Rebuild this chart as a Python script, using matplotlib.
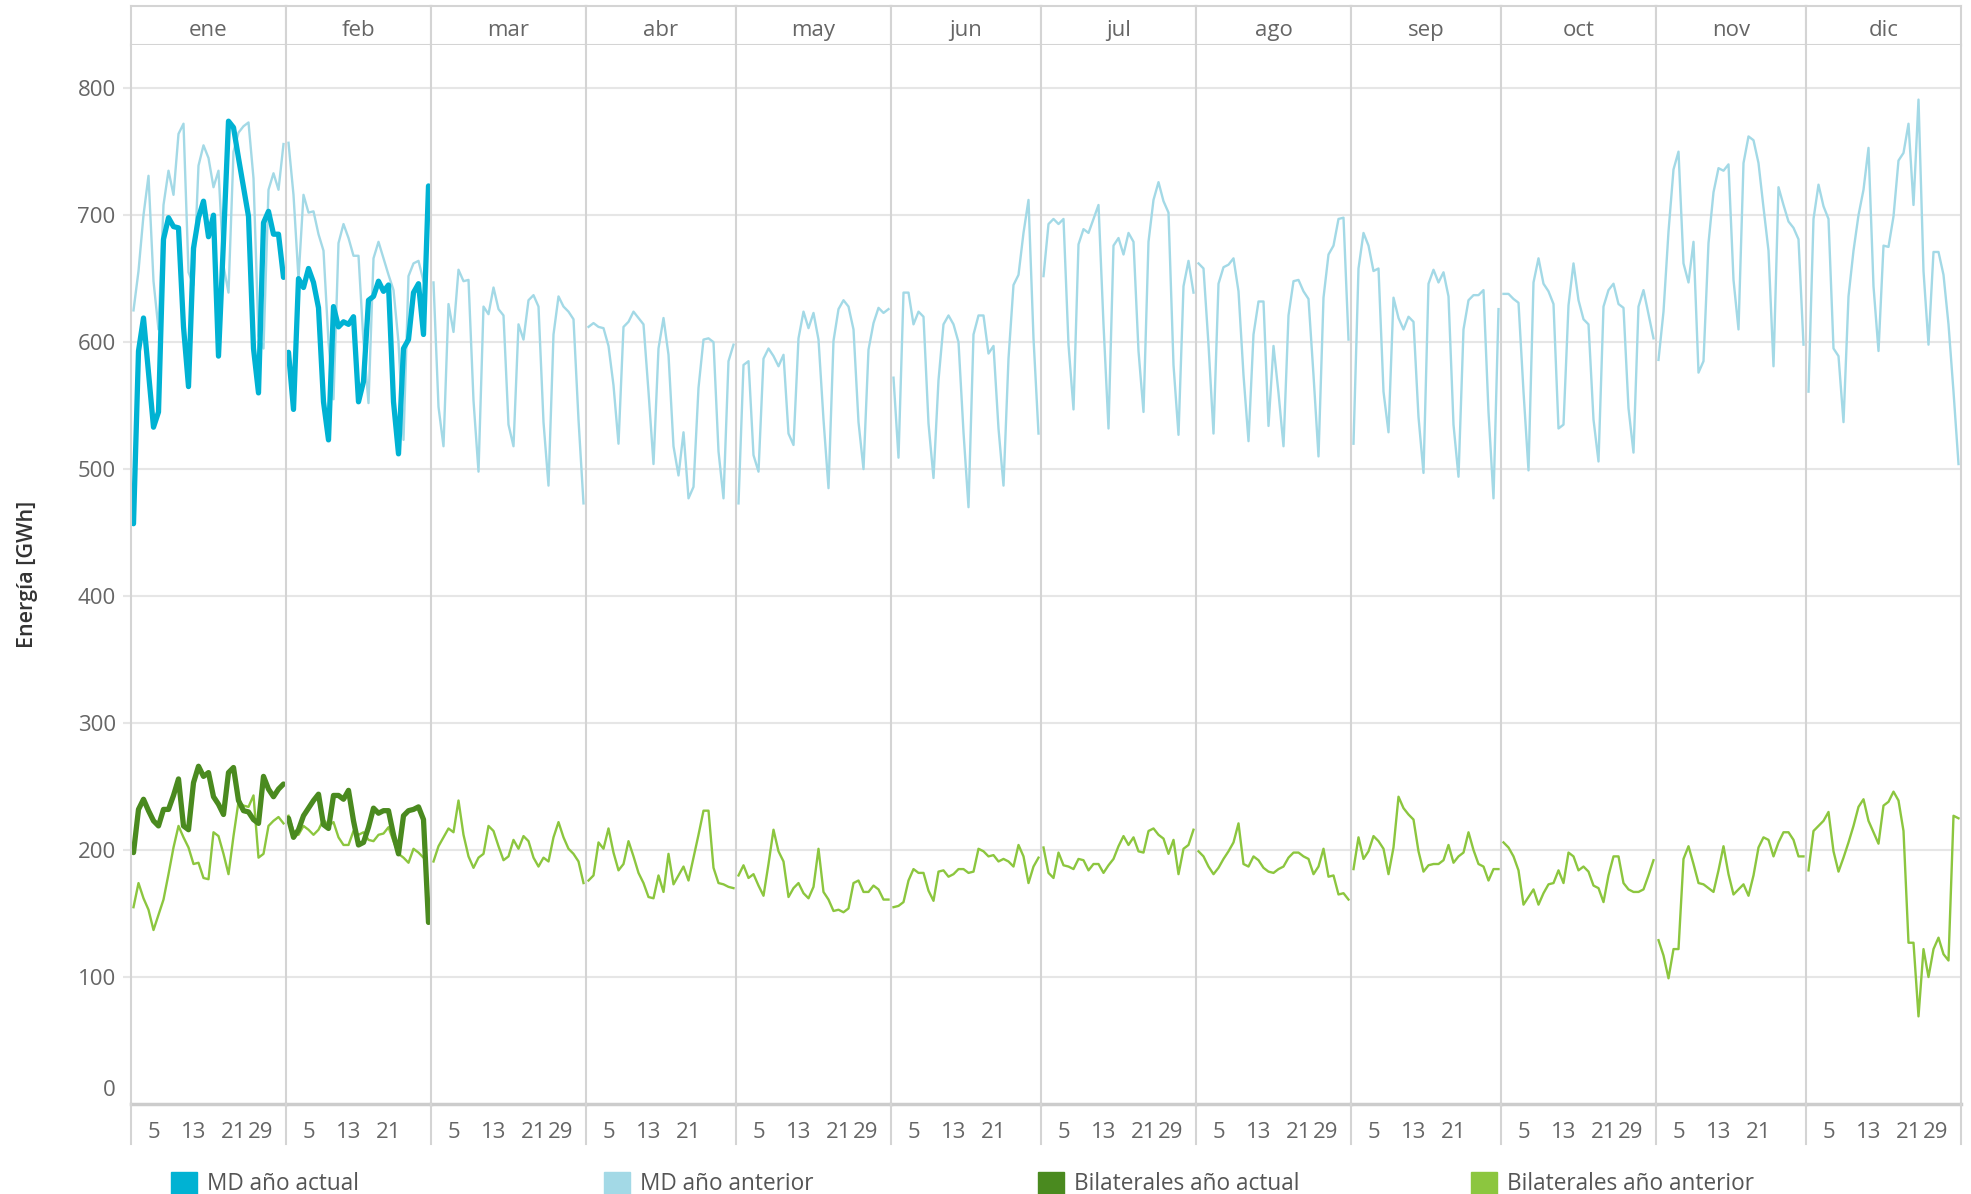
import numpy as np
import matplotlib.pyplot as plt
from matplotlib.lines import Line2D
from matplotlib.patches import Rectangle

# ---- data (GWh per day) ----
meses = ['ene', 'feb', 'mar', 'abr', 'may', 'jun', 'jul', 'ago', 'sep', 'oct', 'nov', 'dic']
dias_mes = [31, 29, 31, 30, 31, 30, 31, 31, 30, 31, 30, 31]

# MD año actual
md_act_ene = [457, 593, 619, 576, 533, 545, 681, 698, 691, 690, 612, 565, 674, 698, 711, 683,
              700, 589, 680, 774, 769, 745, 722, 699, 595, 560, 694, 703, 685, 685, 651]
md_act_feb = [592, 547, 650, 643, 658, 647, 627, 553, 523, 628, 612, 616, 614, 620, 553, 569,
              633, 636, 648, 640, 645, 553, 512, 595, 602, 639, 646, 606, 723]

# MD año anterior
md_ant_ene = [625, 656, 700, 731, 648, 610, 708, 735, 716, 764, 772, 655, 645, 739, 755, 745,
              722, 735, 660, 639, 750, 765, 770, 773, 729, 605, 595, 720, 733, 720, 756]
md_ant_feb = [757, 716, 650, 716, 702, 703, 685, 672, 600, 555, 678, 693, 682, 668, 668, 600,
              552, 666, 679, 666, 653, 641, 600, 523, 652, 662, 664, 648]
md_ant_mar = [647, 549, 518, 630, 608, 657, 648, 649, 554, 498, 628, 622, 643, 626, 621, 535,
              518, 614, 602, 633, 637, 628, 537, 487, 606, 636, 628, 624, 618, 539, 473]
md_ant_abr = [612, 615, 612, 611, 597, 566, 520, 612, 616, 624, 619, 614, 561, 504, 595, 619,
              590, 518, 495, 529, 477, 486, 564, 602, 603, 600, 514, 477, 585, 598]
md_ant_may = [473, 582, 585, 511, 498, 587, 595, 589, 581, 590, 528, 519, 603, 624, 611, 623,
              602, 539, 485, 601, 626, 633, 628, 610, 537, 500, 594, 615, 627, 623, 626]
md_ant_jun = [572, 509, 639, 639, 614, 624, 620, 536, 493, 570, 614, 621, 614, 600, 529, 470,
              606, 621, 621, 591, 597, 532, 487, 587, 645, 653, 686, 712, 603, 528]
md_ant_jul = [652, 693, 697, 693, 697, 598, 547, 677, 689, 686, 697, 708, 614, 532, 676, 682,
              669, 686, 679, 593, 545, 679, 712, 726, 711, 702, 582, 527, 644, 664, 639]
md_ant_ago = [662, 658, 598, 528, 646, 659, 661, 666, 640, 574, 522, 606, 632, 632, 534, 597,
              560, 518, 621, 648, 649, 640, 634, 574, 510, 635, 669, 676, 697, 698, 602]
md_ant_sep = [520, 658, 686, 676, 656, 658, 561, 529, 635, 619, 610, 620, 616, 541, 497, 646,
              657, 647, 655, 636, 535, 494, 610, 633, 637, 637, 641, 545, 477, 626]
md_ant_oct = [638, 638, 634, 631, 561, 499, 647, 666, 646, 640, 630, 532, 535, 629, 662, 633,
              618, 614, 539, 506, 628, 641, 646, 630, 627, 548, 513, 628, 641, 622, 603]
md_ant_nov = [586, 624, 687, 736, 750, 662, 647, 679, 576, 585, 678, 718, 737, 735, 740, 649,
              610, 741, 762, 759, 741, 706, 672, 581, 722, 708, 695, 690, 681, 598]
md_ant_dic = [561, 697, 724, 707, 697, 595, 589, 537, 636, 672, 700, 720, 753, 644, 593, 676,
              675, 699, 743, 749, 772, 708, 791, 656, 598, 671, 671, 653, 614, 561, 504]

# Bilaterales año actual
bil_act_ene = [198, 232, 240, 231, 223, 219, 232, 232, 243, 256, 219, 216, 253, 266, 258, 261,
               242, 236, 228, 261, 265, 239, 231, 230, 224, 221, 258, 248, 242, 248, 252]
bil_act_feb = [225, 210, 216, 227, 233, 239, 244, 220, 217, 243, 243, 240, 247, 223, 204, 206,
               218, 233, 229, 231, 231, 212, 197, 227, 231, 232, 234, 224, 143]

# Bilaterales año anterior
bil_ant_ene = [155, 174, 162, 153, 137, 149, 161, 181, 202, 219, 210, 202, 189, 190, 178, 177,
               214, 211, 197, 181, 211, 238, 235, 234, 243, 194, 197, 219, 223, 226, 221]
bil_ant_feb = [227, 215, 212, 219, 216, 212, 216, 224, 219, 222, 210, 204, 204, 215, 212, 214,
               208, 207, 212, 213, 218, 207, 197, 194, 190, 201, 198, 194]
bil_ant_mar = [191, 203, 210, 217, 214, 239, 212, 195, 186, 194, 197, 219, 215, 203, 192, 195,
               208, 201, 211, 207, 194, 187, 194, 191, 210, 222, 210, 201, 197, 191, 174]
bil_ant_abr = [176, 180, 206, 201, 217, 198, 184, 189, 207, 195, 182, 174, 163, 162, 180, 167,
               197, 173, 180, 187, 176, 194, 212, 231, 231, 186, 174, 173, 171, 170]
bil_ant_may = [180, 188, 178, 181, 172, 164, 189, 216, 199, 191, 163, 170, 174, 166, 162, 171,
               201, 167, 161, 152, 153, 151, 154, 174, 176, 167, 167, 172, 169, 161, 161]
bil_ant_jun = [155, 156, 159, 176, 185, 182, 182, 168, 160, 183, 184, 179, 181, 185, 185, 182,
               183, 201, 199, 195, 196, 191, 193, 191, 187, 204, 195, 174, 187, 194]
bil_ant_jul = [202, 182, 178, 198, 188, 187, 185, 193, 192, 184, 189, 189, 182, 188, 193, 203,
               211, 204, 210, 199, 198, 215, 217, 212, 209, 197, 208, 181, 201, 204, 216]
bil_ant_ago = [199, 195, 187, 181, 186, 193, 199, 206, 221, 189, 187, 195, 192, 186, 183, 182,
               185, 187, 194, 198, 198, 195, 193, 181, 187, 201, 179, 180, 165, 166, 161]
bil_ant_sep = [185, 210, 193, 199, 211, 207, 201, 181, 202, 242, 233, 228, 224, 199, 183, 188,
               189, 189, 192, 204, 190, 195, 198, 214, 200, 189, 187, 176, 185, 185]
bil_ant_oct = [206, 202, 195, 184, 157, 163, 169, 157, 166, 173, 174, 184, 174, 198, 195, 184,
               187, 183, 172, 170, 159, 180, 195, 195, 174, 169, 167, 167, 169, 180, 192]
bil_ant_nov = [129, 117, 99, 122, 122, 193, 203, 189, 174, 173, 170, 167, 184, 203, 181, 165,
               169, 173, 164, 180, 202, 210, 208, 195, 206, 214, 214, 208, 195, 195]
bil_ant_dic = [184, 215, 219, 223, 230, 199, 183, 194, 206, 219, 234, 240, 223, 214, 205, 235,
               238, 246, 239, 215, 127, 127, 69, 122, 100, 122, 131, 118, 113, 227, 225]

md_actual = [md_act_ene, md_act_feb]
bil_actual = [bil_act_ene, bil_act_feb]
md_anterior = [md_ant_ene, md_ant_feb, md_ant_mar, md_ant_abr, md_ant_may, md_ant_jun,
               md_ant_jul, md_ant_ago, md_ant_sep, md_ant_oct, md_ant_nov, md_ant_dic]
bil_anterior = [bil_ant_ene, bil_ant_feb, bil_ant_mar, bil_ant_abr, bil_ant_may, bil_ant_jun,
                bil_ant_jul, bil_ant_ago, bil_ant_sep, bil_ant_oct, bil_ant_nov, bil_ant_dic]

y_ticks = [100, 200, 300, 400, 500, 600, 700, 800]

series = ['MD año actual', 'MD año anterior', 'Bilaterales año actual', 'Bilaterales año anterior']
colores = ['#00b2d3', '#a3d9e6', '#4a8a1f', '#8cc63f']

# ---- figure ----
plt.rcParams['font.family'] = ['Open Sans', 'DejaVu Sans']
W, H = 1971, 1194
fig = plt.figure(figsize=(W / 100, H / 100), dpi=100)

grid_c = '#e6e6e6'
sep_c = '#d4d4d4'
txt_c = '#666666'

gs = fig.add_gridspec(2, 12, width_ratios=dias_mes, height_ratios=[39, 1059],
                      left=131 / W, right=1961 / W, top=1 - 6 / H, bottom=1 - 1104 / H,
                      wspace=0, hspace=0)

axes = []
for i, mes in enumerate(meses):
    n = dias_mes[i]
    hax = fig.add_subplot(gs[0, i])
    hax.set_xticks([])
    hax.set_yticks([])
    for s in hax.spines.values():
        s.set_color(sep_c)
        s.set_linewidth(1.5)
    hax.text(0.5, 0.38, mes, ha='center', va='center', fontsize=16, color=txt_c,
             transform=hax.transAxes)

    ax = fig.add_subplot(gs[1, i])
    axes.append(ax)
    ax.plot(np.arange(1, len(md_anterior[i]) + 1), md_anterior[i], color=colores[1], lw=1.7,
            solid_joinstyle='round')
    ax.plot(np.arange(1, len(bil_anterior[i]) + 1), bil_anterior[i], color=colores[3], lw=1.7,
            solid_joinstyle='round')
    if i < len(md_actual):
        ax.plot(np.arange(1, len(md_actual[i]) + 1), md_actual[i], color=colores[0], lw=3.8,
                solid_joinstyle='round', solid_capstyle='round')
        ax.plot(np.arange(1, len(bil_actual[i]) + 1), bil_actual[i], color=colores[2], lw=3.8,
                solid_joinstyle='round', solid_capstyle='round')

    ax.set_xlim(0.5, n + 0.5)
    ax.set_ylim(0, 834)
    ax.set_yticks(y_ticks)
    ax.yaxis.grid(True, color=grid_c, lw=1.5)
    ax.set_axisbelow(True)

    xt = [5, 13, 21, 29] if n == 31 else [5, 13, 21]
    ax.set_xticks(xt)
    ax.set_xticklabels([str(t) for t in xt])
    for lbl in ax.get_xticklabels():
        if lbl.get_text() == '29':
            lbl.set_horizontalalignment('right')
    ax.tick_params(axis='x', length=0, pad=13, labelsize=16, labelcolor=txt_c)

    if i == 0:
        ax.tick_params(axis='y', length=6, width=1.5, color=grid_c, pad=5,
                       labelsize=16, labelcolor=txt_c)
        ax.annotate('0', xy=(0, 0), xycoords=('axes fraction', 'data'), xytext=(-15, 13),
                    textcoords='offset pixels', ha='right', va='center', fontsize=16,
                    color=txt_c)
    else:
        ax.tick_params(axis='y', length=0, labelleft=False)

    ax.spines['top'].set_visible(False)
    ax.spines['right'].set_visible(i == 11)
    ax.spines['right'].set_color(sep_c)
    ax.spines['right'].set_linewidth(1.5)
    ax.spines['left'].set_color(sep_c)
    ax.spines['left'].set_linewidth(1.5)
    ax.spines['bottom'].set_color('#cccccc')
    ax.spines['bottom'].set_linewidth(2.5)

# separators running through the tick label band
y_low = 1 - 1144 / H
for ax in axes:
    pos = ax.get_position()
    fig.add_artist(Line2D([pos.x0, pos.x0], [y_low, pos.y0], color=sep_c, lw=1.5,
                          transform=fig.transFigure))
pos = axes[-1].get_position()
fig.add_artist(Line2D([pos.x1, pos.x1], [y_low, pos.y0], color=sep_c, lw=1.5,
                      transform=fig.transFigure))

fig.text(28 / W, 1 - 574 / H, 'Energía [GWh]', rotation=90, ha='center', va='center',
         fontsize=15.5, color='#333333', fontweight='semibold')

# legend row (cut at the bottom edge like the original)
leg_x = [171, 604, 1038, 1471]
for x, c, name in zip(leg_x, colores, series):
    fig.add_artist(Rectangle((x / W, 1 - 1198 / H), 26 / W, 26 / H, color=c,
                             transform=fig.transFigure))
    fig.text((x + 36) / W, 1 - 1184 / H, name, ha='left', va='center', fontsize=16.3,
             color='#555555')

fig.savefig('out.png', dpi=100)
